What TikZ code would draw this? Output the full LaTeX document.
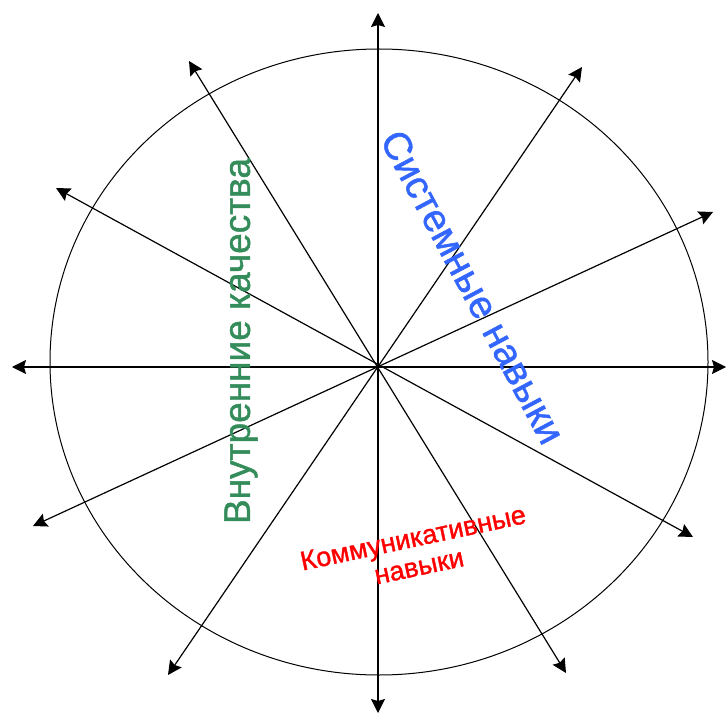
\documentclass[tikz,border=0pt]{standalone}
\usepackage{fontspec}
\setmainfont{Liberation Sans}
\newfontfamily\heavyfont[FakeBold=1.2]{Liberation Sans}
\usetikzlibrary{arrows.meta}
\definecolor{sysblue}{RGB}{51,102,255}
\definecolor{ingreen}{RGB}{51,140,90}
\definecolor{comred}{RGB}{255,0,0}
\begin{document}
\begin{tikzpicture}[x=1pt,y=-1pt,
  axisline/.style={line width=1.2pt,
    {Stealth[length=14pt,width=14pt,inset=2pt]}-{Stealth[length=14pt,width=14pt,inset=2pt]}},
  rim/.style={line width=1pt},
  lbl/.style={inner sep=0pt, align=center}]
\useasboundingbox (0,0) rectangle (728,714);
% outer ring
\draw[rim] (379,362) ellipse [x radius=329, y radius=313];
% arrow end points
\coordinate (t) at (378,13);
\coordinate (b) at (378,713);
\coordinate (l) at (12,367);
\coordinate (r) at (726,367);
\coordinate (ul) at (189,61);
\coordinate (br) at (566,673);
\coordinate (ur) at (582,67);
\coordinate (bl) at (168,675);
\coordinate (lu) at (56,188);
\coordinate (rd) at (693,537);
\coordinate (ru) at (713,212);
\coordinate (ld) at (33,526);
\draw[axisline] (b) -- (t);
\draw[axisline] (l) -- (r);
\draw[axisline] (ul) -- (br);
\draw[axisline] (ur) -- (bl);
\draw[axisline] (lu) -- (rd);
\draw[axisline] (ru) -- (ld);
% labels
\node[lbl, text=sysblue, rotate=-62, font=\heavyfont\fontsize{39}{44}\selectfont] (sys) at (473,287) {Системные навыки};
\node[lbl, text=ingreen, rotate=90, font=\heavyfont\fontsize{37}{40}\selectfont] (inn) at (241,341) {Внутренние качества};
\node[lbl, text=comred, rotate=12, font=\heavyfont\fontsize{27}{29}\selectfont] (com) at (416,552) {Коммуникативные\\навыки};
\end{tikzpicture}
\end{document}
